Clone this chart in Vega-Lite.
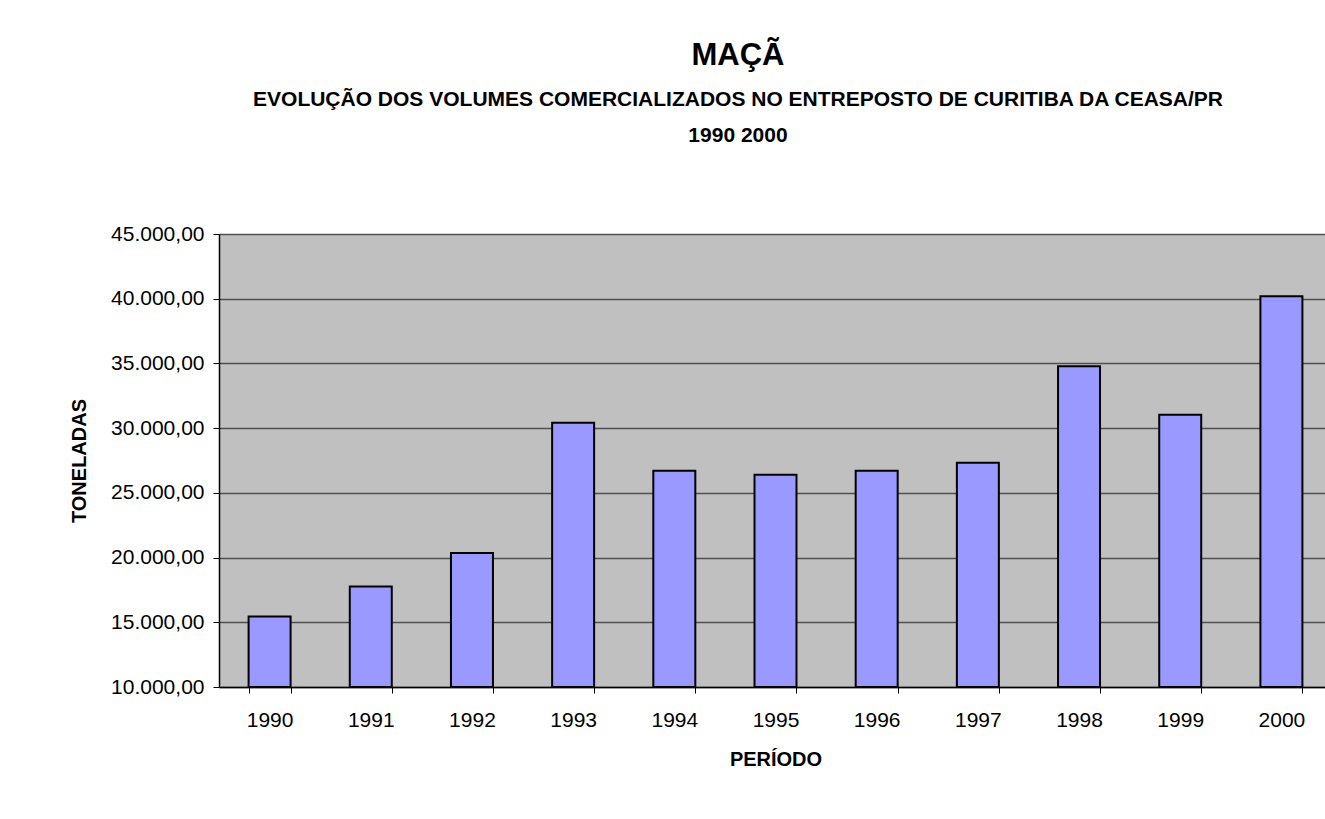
{
  "$schema": "https://vega.github.io/schema/vega-lite/v6.json",
  "autosize": {"type": "none"},
  "width": 1106,
  "height": 453,
  "padding": {"left": 219, "top": 234, "right": 0, "bottom": 132},
  "background": "white",
  "config": {
    "locale": {"number": {"decimal": ",", "thousands": ".", "grouping": [3], "currency": ["R$ ", ""]}},
    "font": "Liberation Sans",
    "view": {"fill": "#C0C0C0", "stroke": null}
  },
  "title": {
    "text": "MAÇÃ",
    "subtitle": ["EVOLUÇÃO DOS VOLUMES COMERCIALIZADOS NO ENTREPOSTO DE CURITIBA DA CEASA/PR", "1990 2000"],
    "fontSize": 31,
    "fontWeight": "bold",
    "color": "black",
    "subtitleFontSize": 21,
    "subtitleFontWeight": "bold",
    "subtitleColor": "black",
    "subtitleLineHeight": 36,
    "subtitlePadding": 17,
    "anchor": "middle",
    "frame": "group",
    "dx": -34,
    "offset": 76
  },
  "data": {
    "values": [
      {"ano": "1990", "toneladas": 15440},
      {"ano": "1991", "toneladas": 17760},
      {"ano": "1992", "toneladas": 20360},
      {"ano": "1993", "toneladas": 30420},
      {"ano": "1994", "toneladas": 26700},
      {"ano": "1995", "toneladas": 26400},
      {"ano": "1996", "toneladas": 26700},
      {"ano": "1997", "toneladas": 27320},
      {"ano": "1998", "toneladas": 34780},
      {"ano": "1999", "toneladas": 31040},
      {"ano": "2000", "toneladas": 40190}
    ]
  },
  "mark": {"type": "bar", "fill": "#9999FF", "stroke": "#000000", "strokeWidth": 2},
  "encoding": {
    "x": {
      "field": "ano",
      "type": "ordinal",
      "scale": {"range": [0, 1113], "paddingInner": 0.585, "paddingOuter": 0.2925},
      "axis": {
        "tickBand": "extent",
        "labelAngle": 0,
        "labelFontSize": 21,
        "labelColor": "black",
        "labelPadding": 16,
        "tickSize": 6,
        "tickColor": "black",
        "domainColor": "black",
        "domainWidth": 1.5,
        "grid": false,
        "title": "PERÍODO",
        "titleFontSize": 20,
        "titleFontWeight": "bold",
        "titleColor": "black",
        "titlePadding": 19
      }
    },
    "y": {
      "field": "toneladas",
      "type": "quantitative",
      "scale": {"domain": [10000, 45000], "nice": false, "zero": false},
      "axis": {
        "values": [10000, 15000, 20000, 25000, 30000, 35000, 40000, 45000],
        "format": ",.2f",
        "grid": true,
        "gridColor": "#505050",
        "gridWidth": 1.3,
        "tickSize": 6,
        "tickColor": "black",
        "domainColor": "black",
        "domainWidth": 1.5,
        "labelFontSize": 21,
        "labelColor": "black",
        "labelPadding": 9,
        "title": "TONELADAS",
        "titleFontSize": 20,
        "titleFontWeight": "bold",
        "titleColor": "black",
        "titlePadding": 21
      }
    },
    "y2": {"datum": 10000}
  }
}
